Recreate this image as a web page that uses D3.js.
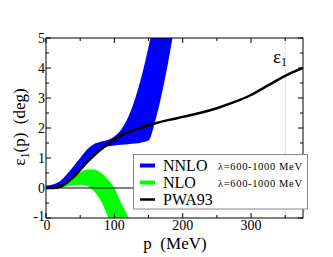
<!DOCTYPE html>
<html>
<head>
<meta charset="utf-8">
<script src="https://cdn.jsdelivr.net/npm/d3@7"></script>
<style>
  body { margin: 0; background: #fff; }
  svg text { font-family: "Liberation Serif", "Times New Roman", serif; }
</style>
</head>
<body>
<div id="chart"></div>
<script>
// momentum grid (MeV) and band edges
var pBlue = [0, 10, 20, 30, 40, 50, 60, 70, 80, 90, 100, 110, 120, 130, 140, 150, 160, 170, 180, 190];
var nnloHi = [0.08, 0.12, 0.22, 0.44, 0.72, 1.0, 1.28, 1.46, 1.54, 1.6, 1.72, 1.95, 2.35, 2.95, 3.74, 4.7, 5.8, 7.0, 8.3, 9.7];
var nnloLo = [-0.02, -0.02, 0.03, 0.15, 0.34, 0.58, 0.82, 1.04, 1.24, 1.38, 1.42, 1.44, 1.46, 1.48, 1.52, 1.58, 2.25, 3.2, 4.35, 5.7];

var pGreen = [0, 10, 20, 30, 40, 50, 60, 70, 80, 90, 100, 110, 120, 130];
var nloHi = [0.0, 0.02, 0.08, 0.2, 0.36, 0.52, 0.62, 0.62, 0.52, 0.3, 0.0, -0.5, -0.94, -1.5];
var nloLo = [-0.03, -0.03, 0.0, 0.05, 0.09, 0.11, 0.07, -0.1, -0.42, -0.92, -1.5, -2.2, -3.0, -3.8];

var pPwa = [0, 10, 20, 30, 40, 50, 60, 70, 80, 90, 100, 110, 120, 140, 160, 180, 200, 225, 250, 275, 300, 325, 350, 376];
var pwa93 = [0, 0.0, 0.04, 0.17, 0.36, 0.6, 0.86, 1.08, 1.28, 1.46, 1.62, 1.76, 1.86, 2.03, 2.16, 2.27, 2.37, 2.5, 2.66, 2.86, 3.1, 3.42, 3.74, 4.0];

var xTicks = [0, 100, 200, 300];
var xMinor = [50, 150, 250, 350];
var yTicks = [-1, 0, 1, 2, 3, 4, 5];
var yMinor = [-0.5, 0.5, 1.5, 2.5, 3.5, 4.5];

var legendRows = [
  { name: "NNLO", color: "#0000ff", sub: "\u03bb=600-1000 MeV", w: 4 },
  { name: "NLO", color: "#00ff00", sub: "\u03bb=600-1000 MeV", w: 4 },
  { name: "PWA93", color: "#000", sub: "", w: 2.5 }
];

var W = 333, H = 257;
var margin = { top: 38, right: 30, bottom: 39, left: 46 };
var svg = d3.select("#chart").append("svg")
  .attr("width", W).attr("height", H);

var x = d3.scaleLinear().domain([0, 376]).range([margin.left, W - margin.right]);
var y = d3.scaleLinear().domain([-1, 5]).range([H - margin.bottom, margin.top]);

svg.append("clipPath").attr("id", "clip").append("rect")
  .attr("x", x(0)).attr("y", y(5))
  .attr("width", x(376) - x(0)).attr("height", y(-1) - y(5));

var plot = svg.append("g").attr("clip-path", "url(#clip)");

// faint vertical guide
plot.append("line")
  .attr("x1", x(350)).attr("x2", x(350))
  .attr("y1", y(5)).attr("y2", y(-1))
  .attr("stroke", "#dcdcff").attr("stroke-width", 1);

var band = d3.area()
  .x(function (d) { return x(d.p); })
  .y0(function (d) { return y(d.lo); })
  .y1(function (d) { return y(d.hi); })
  .curve(d3.curveMonotoneX);

var green = pGreen.map(function (p, i) { return { p: p, lo: nloLo[i], hi: nloHi[i] }; });
var blue = pBlue.map(function (p, i) { return { p: p, lo: nnloLo[i], hi: nnloHi[i] }; });

plot.append("path").datum(green).attr("d", band).attr("fill", "#00ff00");
plot.append("path").datum(blue).attr("d", band).attr("fill", "#0000ff");

// zero line
plot.append("line")
  .attr("x1", x(0)).attr("x2", x(376))
  .attr("y1", y(0)).attr("y2", y(0))
  .attr("stroke", "#000").attr("stroke-width", 1);

var line = d3.line()
  .x(function (d, i) { return x(pPwa[i]); })
  .y(function (d) { return y(d); })
  .curve(d3.curveMonotoneX);

plot.append("path").datum(pwa93).attr("d", line)
  .attr("fill", "none").attr("stroke", "#000").attr("stroke-width", 2.5);

// frame and ticks
var axes = svg.append("g").attr("stroke", "#000").attr("stroke-width", 1);
axes.append("rect")
  .attr("x", x(0)).attr("y", y(5))
  .attr("width", x(376) - x(0)).attr("height", y(-1) - y(5))
  .attr("fill", "none");

function xTick(v, len) {
  axes.append("line").attr("x1", x(v)).attr("x2", x(v)).attr("y1", y(-1)).attr("y2", y(-1) - len);
  axes.append("line").attr("x1", x(v)).attr("x2", x(v)).attr("y1", y(5)).attr("y2", y(5) + len);
}
function yTick(v, len) {
  axes.append("line").attr("x1", x(0)).attr("x2", x(0) + len).attr("y1", y(v)).attr("y2", y(v));
  axes.append("line").attr("x1", x(376)).attr("x2", x(376) - len).attr("y1", y(v)).attr("y2", y(v));
}
xTicks.forEach(function (v) { xTick(v, 5); });
xMinor.forEach(function (v) { xTick(v, 3); });
yTicks.forEach(function (v) { yTick(v, 5); });
yMinor.forEach(function (v) { yTick(v, 3); });

svg.append("g").selectAll("text").data(xTicks).enter().append("text")
  .attr("x", function (d) { return x(d) + (d === 0 ? 1 : 0); })
  .attr("y", y(-1) + 12)
  .attr("text-anchor", "middle")
  .attr("font-size", 14)
  .text(function (d) { return d; });

svg.append("g").selectAll("text").data(yTicks).enter().append("text")
  .attr("x", x(0) - 1)
  .attr("y", function (d) { return y(d) + (d === -1 ? 3 : 5); })
  .attr("text-anchor", "end")
  .attr("font-size", 14)
  .text(function (d) { return d; });

// axis titles
svg.append("text")
  .attr("x", 175).attr("y", 249)
  .attr("text-anchor", "middle")
  .attr("font-size", 17)
  .style("white-space", "pre")
  .text("p  (MeV)");

var yt = svg.append("text")
  .attr("transform", "translate(25,127) rotate(-90)")
  .attr("text-anchor", "middle")
  .attr("font-size", 17)
  .style("white-space", "pre");
yt.append("tspan").text("\u03b5");
yt.append("tspan").attr("font-size", 12).attr("dy", 4).text("1");
yt.append("tspan").attr("dy", -4).text("(p)  (deg)");

// curve label
var lab = svg.append("text").attr("x", 273).attr("y", 63).attr("font-size", 19);
lab.append("tspan").text("\u03b5");
lab.append("tspan").attr("font-size", 12).attr("dy", 3).text("1");

// legend
var lg = svg.append("g");
lg.append("rect")
  .attr("x", 133.5).attr("y", 154.5).attr("width", 174).attr("height", 54.5)
  .attr("fill", "#fff").attr("stroke", "#888").attr("stroke-width", 1);
legendRows.forEach(function (r, i) {
  var by = 170.5 + i * 17;
  lg.append("line")
    .attr("x1", 140).attr("x2", 155)
    .attr("y1", by - 5).attr("y2", by - 5)
    .attr("stroke", r.color).attr("stroke-width", r.w);
  lg.append("text").attr("x", 163).attr("y", by).attr("font-size", 16).text(r.name);
  if (r.sub) {
    lg.append("text").attr("x", 218).attr("y", by - 1).attr("font-size", 10.5)
      .attr("textLength", 84).text(r.sub);
  }
});
</script>
</body>
</html>
